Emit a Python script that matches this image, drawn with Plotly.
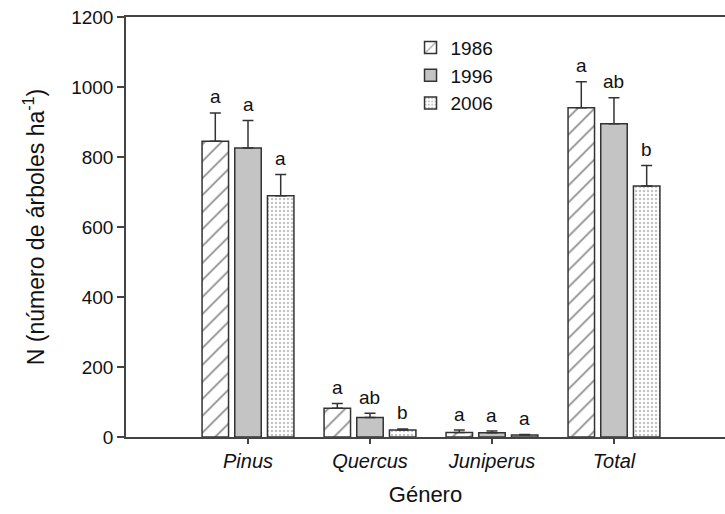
import plotly.graph_objects as go

categories = ["Pinus", "Quercus", "Juniperus", "Total"]
years = ["1986", "1996", "2006"]
values_1986 = [845, 82, 13, 941]
values_1996 = [826, 56, 12, 895]
values_2006 = [689, 20, 6, 717]
se_1986 = [81, 14, 7, 74]
se_1996 = [78, 12, 5, 74]
se_2006 = [61, 3, 1, 59]
letters_1986 = ["a", "a", "a", "a"]
letters_1996 = ["a", "ab", "a", "ab"]
letters_2006 = ["a", "b", "a", "b"]

series = [
    (years[0], values_1986, se_1986, letters_1986,
     dict(color="white", pattern=dict(shape="/", fgcolor="#1a1a1a", bgcolor="white", size=12, solidity=0.14))),
    (years[1], values_1996, se_1996, letters_1996,
     dict(color="#c4c4c4")),
    (years[2], values_2006, se_2006, letters_2006,
     dict(color="white", pattern=dict(shape=".", fgcolor="#8a8a8a", bgcolor="white", size=4, solidity=0.3))),
]

bargap = 0.196
slot = (1 - bargap) / 3
xs = list(range(len(categories)))

fig = go.Figure()
annotations = []
for j, (name, vals, se, lets, marker) in enumerate(series):
    fig.add_trace(go.Bar(
        name=name, x=xs, y=vals,
        marker=dict(**marker, line=dict(color="#333333", width=1.5)),
        error_y=dict(type="data", array=se, arrayminus=[0] * len(se), symmetric=False,
                     color="#333333", thickness=1.5, width=5.5),
    ))
    for i, (v, s, l) in enumerate(zip(vals, se, lets)):
        annotations.append(dict(
            x=i + (j - 1) * slot, y=v + s, xref="x", yref="y", text=l, showarrow=False,
            yanchor="middle", yshift=16, font=dict(size=19, color="#111111"),
        ))

font_family = "Liberation Sans, Arial, sans-serif"
fig.update_layout(
    width=725, height=514,
    margin=dict(l=126, r=0, t=17, b=77),
    paper_bgcolor="white", plot_bgcolor="white",
    barmode="group", bargap=bargap, bargroupgap=0.19,
    font=dict(family=font_family, size=19, color="#111111"),
    showlegend=True,
    legend=dict(x=0.475, y=0.972, xanchor="left", yanchor="top", bgcolor="rgba(0,0,0,0)",
                font=dict(size=19), tracegroupgap=0, itemwidth=30),
    annotations=annotations,
    xaxis=dict(
        range=[-1, 3.91], tickmode="array", tickvals=xs,
        ticktext=["<i>%s</i>" % c for c in categories],
        showline=True, linecolor="#444444", linewidth=1.5, mirror=True,
        ticks="outside", ticklen=5, tickcolor="#444444", tickwidth=1.5,
        showgrid=False, zeroline=False,
        title=dict(text="Género", font=dict(size=22), standoff=16),
        tickfont=dict(size=20),
    ),
    yaxis=dict(
        range=[0, 1200], tickvals=[0, 200, 400, 600, 800, 1000, 1200],
        showline=True, linecolor="#444444", linewidth=1.5,
        ticks="outside", ticklen=7, tickcolor="#444444", tickwidth=1.5,
        showgrid=False, zeroline=False,
        title=dict(text="N (número de árboles ha<sup>-1</sup>)", font=dict(size=23), standoff=20),
        tickfont=dict(size=19),
    ),
)

fig.write_html("out.html")
